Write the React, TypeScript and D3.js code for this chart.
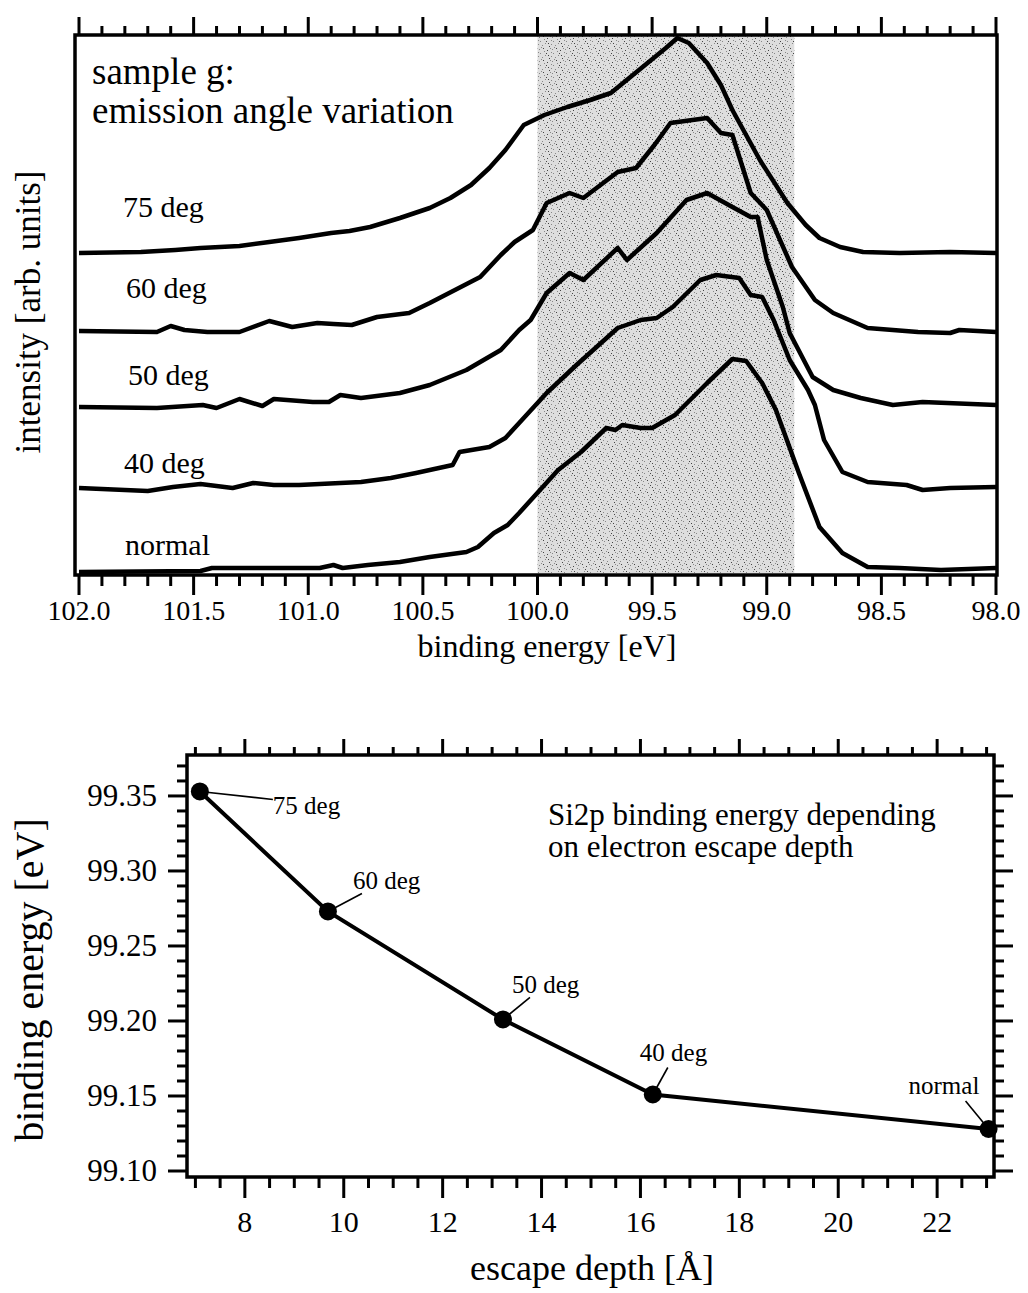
import React from 'react';
import * as d3 from 'd3';

// ---------- top panel data ----------
const energyTicks = [102.0, 101.5, 101.0, 100.5, 100.0, 99.5, 99.0, 98.5, 98.0];
const shadeRange = [100.0, 98.88];
const curveNames = ['75 deg', '60 deg', '50 deg', '40 deg', 'normal'];

const curve75: [number, number][] = [
  [102.0, 322], [101.73, 323], [101.58, 325], [101.47, 327], [101.3, 329], [101.17, 333], [101.04, 337],
  [100.9, 342], [100.82, 344], [100.73, 348], [100.6, 357], [100.47, 367], [100.38, 377], [100.29, 390],
  [100.21, 407], [100.14, 425], [100.06, 450], [99.97, 460], [99.87, 468], [99.77, 475], [99.68, 482],
  [99.6, 497], [99.52, 512], [99.44, 527], [99.39, 537], [99.34, 532], [99.26, 512], [99.2, 490],
  [99.15, 465], [99.03, 415], [98.91, 372], [98.83, 350], [98.77, 337], [98.68, 328], [98.58, 323],
  [98.42, 322], [98.2, 323], [98.0, 322],
];
const curve60: [number, number][] = [
  [102.0, 244], [101.66, 243], [101.6, 249], [101.54, 245], [101.44, 243], [101.3, 243], [101.17, 254],
  [101.07, 248], [100.96, 252], [100.89, 251], [100.81, 250], [100.7, 258], [100.56, 262], [100.47, 272],
  [100.36, 285], [100.25, 298], [100.16, 320], [100.1, 333], [100.02, 345], [99.96, 372], [99.86, 382],
  [99.8, 377], [99.65, 403], [99.57, 407], [99.49, 430], [99.42, 452], [99.26, 457], [99.2, 442],
  [99.15, 440], [99.07, 382], [99.0, 365], [98.89, 308], [98.79, 275], [98.71, 262], [98.56, 247],
  [98.34, 243], [98.2, 242], [98.16, 245], [98.0, 243],
];
const curve50: [number, number][] = [
  [102.0, 168], [101.66, 167], [101.46, 170], [101.4, 167], [101.3, 176], [101.2, 169], [101.15, 176],
  [100.98, 173], [100.91, 173], [100.86, 180], [100.77, 177], [100.6, 182], [100.47, 190], [100.31, 205],
  [100.16, 225], [100.08, 245], [100.03, 255], [99.96, 282], [99.86, 302], [99.8, 295], [99.65, 327],
  [99.61, 315], [99.48, 342], [99.35, 375], [99.26, 382], [99.15, 368], [99.07, 358], [99.04, 358],
  [99.0, 315], [98.93, 268], [98.9, 242], [98.8, 198], [98.71, 185], [98.59, 177], [98.45, 170],
  [98.32, 173], [98.0, 170],
];
const curve40: [number, number][] = [
  [102.0, 87], [101.7, 84], [101.59, 88], [101.47, 91], [101.33, 87], [101.24, 92], [101.15, 90],
  [101.04, 90], [100.95, 91], [100.77, 93], [100.64, 97], [100.53, 102], [100.37, 110], [100.34, 123],
  [100.21, 128], [100.14, 137], [100.08, 152], [99.96, 182], [99.83, 210], [99.65, 247], [99.55, 255],
  [99.48, 257], [99.41, 268], [99.29, 295], [99.22, 300], [99.12, 297], [99.07, 280], [99.02, 278],
  [98.97, 255], [98.9, 215], [98.82, 185], [98.79, 170], [98.75, 135], [98.67, 103], [98.56, 93],
  [98.39, 90], [98.32, 85], [98.2, 87], [98.0, 88],
];
const curveNormal: [number, number][] = [
  [102.0, 3], [101.47, 4], [101.42, 7], [100.95, 7], [100.89, 10], [100.85, 7], [100.74, 10],
  [100.6, 13], [100.47, 18], [100.31, 23], [100.26, 28], [100.19, 42], [100.13, 50], [100.08, 62],
  [99.91, 105], [99.81, 123], [99.7, 147], [99.66, 145], [99.63, 150], [99.55, 147], [99.5, 147],
  [99.4, 160], [99.26, 192], [99.15, 216], [99.09, 214], [99.02, 192], [98.96, 165], [98.86, 102],
  [98.77, 48], [98.67, 22], [98.56, 8], [98.42, 7], [98.24, 5], [98.0, 7],
];
const curves = [curve75, curve60, curve50, curve40, curveNormal];

// ---------- bottom panel data ----------
const depthTicks = [8, 10, 12, 14, 16, 18, 20, 22];
const bindingTicks = [99.1, 99.15, 99.2, 99.25, 99.3, 99.35];
const pointNames = ['75 deg', '60 deg', '50 deg', '40 deg', 'normal'];
const escapeDepth = [7.09, 9.68, 13.22, 16.25, 23.04];
const bindingEnergy = [99.353, 99.273, 99.201, 99.151, 99.128];

// ---------- layout (pixels) ----------
const FONT = "'Liberation Serif', 'Times New Roman', serif";
const top = { l: 75, r: 997, t: 35, b: 575 };
const bot = { l: 187, r: 994, t: 755, b: 1177 };
const curveLabelPos = [[123, 217], [126, 298], [128, 385], [124, 473], [125, 555]];
// text offset (dx,dy) and leader end offset (lx,ly) relative to each point
const annotOffsets = [
  [73, 23, 73, 8],
  [25, -22, 34, -18],
  [9, -26, 27, -22],
  [-13, -33, 15, -27],
  [-80, -35, -23, -28],
];
const stippleDots = [
  [1, 2], [4, 0], [7, 5], [2, 7], [5, 4], [9, 9], [0, 5], [6, 1], [11, 3], [3, 10], [8, 11], [12, 7], [10, 0], [5, 8],
];

export default function App() {
  const xTop = d3.scaleLinear().domain([102, 98]).range([79, 996]);
  const yTop = d3.scaleLinear().domain([0, 540]).range([top.b, top.t]);
  const line = d3.line<[number, number]>().x(d => xTop(d[0])).y(d => yTop(d[1]));
  const topMinor = d3.range(0, 41).map(i => 98 + i * 0.1);

  const xBot = d3.scaleLinear().domain([6.83, 23.15]).range([bot.l, bot.r]);
  const yBot = d3.scaleLinear().domain([99.096, 99.3773]).range([bot.b, bot.t]);
  const botXMinor = d3.range(7, 23.01, 0.5).filter(v => xBot(v) > bot.l + 2 && xBot(v) < bot.r - 2);
  const botYMinor = d3.range(0, 28).map(i => 99.1 + i * 0.01);
  const pts = escapeDepth.map((d, i) => [d, bindingEnergy[i]] as [number, number]);
  const botLine = d3.line<[number, number]>().x(d => xBot(d[0])).y(d => yBot(d[1]));

  return (
    <svg width={1028} height={1293} style={{ position: 'absolute', left: 0, top: 0, background: '#fff' }}
      fontFamily={FONT}>
      <defs>
        <pattern id="stipple" width={13} height={12} patternUnits="userSpaceOnUse">
          <rect width={13} height={12} fill="#dedede" />
          {stippleDots.map((p, i) => (
            <rect key={i} x={p[0]} y={p[1]} width={1} height={1} fill={i % 3 === 0 ? '#444' : '#888'} />
          ))}
        </pattern>
      </defs>

      {/* ---------- TOP PANEL ---------- */}
      <rect x={xTop(shadeRange[0])} y={top.t} width={xTop(shadeRange[1]) - xTop(shadeRange[0])}
        height={top.b - top.t - 2} fill="url(#stipple)" />
      {curves.map((c, i) => (
        <path key={i} d={line(c) || ''} fill="none" stroke="#000" strokeWidth={4.5} strokeLinejoin="round" />
      ))}
      <rect x={top.l} y={top.t} width={top.r - top.l} height={top.b - top.t} fill="none" stroke="#000" strokeWidth={3.5} />
      {topMinor.map((v, i) => {
        const major = i % 5 === 0;
        const x = xTop(v);
        return (
          <g key={i}>
            <line x1={x} x2={x} y1={top.t} y2={top.t - (major ? 18 : 9)} stroke="#000" strokeWidth={3} />
            <line x1={x} x2={x} y1={top.b} y2={top.b + (major ? 20 : 11)} stroke="#000" strokeWidth={3} />
          </g>
        );
      })}
      {energyTicks.map((v, i) => (
        <text key={i} x={xTop(v)} y={620} fontSize={28} textAnchor="middle">{v.toFixed(1)}</text>
      ))}
      <text x={547} y={657} fontSize={32} textAnchor="middle">binding energy [eV]</text>
      <text transform="translate(40,312) rotate(-90)" fontSize={35} textAnchor="middle">intensity [arb. units]</text>
      <text x={92} y={84} fontSize={37}>sample g:</text>
      <text x={92} y={123} fontSize={37}>emission angle variation</text>
      {curveNames.map((n, i) => (
        <text key={i} x={curveLabelPos[i][0]} y={curveLabelPos[i][1]} fontSize={30}>{n}</text>
      ))}

      {/* ---------- BOTTOM PANEL ---------- */}
      <rect x={bot.l} y={bot.t} width={bot.r - bot.l} height={bot.b - bot.t} fill="none" stroke="#000" strokeWidth={3.5} />
      {botXMinor.map((v, i) => {
        const major = Number.isInteger(v) && v % 2 === 0;
        const x = xBot(v);
        return (
          <g key={i}>
            <line x1={x} x2={x} y1={bot.t} y2={bot.t - (major ? 16 : 8)} stroke="#000" strokeWidth={3} />
            <line x1={x} x2={x} y1={bot.b} y2={bot.b + (major ? 21 : 11)} stroke="#000" strokeWidth={3} />
          </g>
        );
      })}
      {botYMinor.map((v, i) => {
        const major = i % 5 === 0;
        const y = yBot(v);
        return (
          <g key={i}>
            <line x1={bot.l} x2={bot.l - (major ? 19 : 10)} y1={y} y2={y} stroke="#000" strokeWidth={3} />
            <line x1={bot.r} x2={bot.r + (major ? 19 : 10)} y1={y} y2={y} stroke="#000" strokeWidth={3} />
          </g>
        );
      })}
      {depthTicks.map((v, i) => (
        <text key={i} x={xBot(v)} y={1232} fontSize={30} textAnchor="middle">{v}</text>
      ))}
      {bindingTicks.map((v, i) => (
        <text key={i} x={157} y={yBot(v) + 10} fontSize={31} textAnchor="end">{v.toFixed(2)}</text>
      ))}
      <text x={592} y={1280} fontSize={36} textAnchor="middle">escape depth [Å]</text>
      <text transform="translate(43,980) rotate(-90)" fontSize={40} textAnchor="middle">binding energy [eV]</text>
      <text x={548} y={825} fontSize={31}>Si2p binding energy depending</text>
      <text x={548} y={857} fontSize={31}>on electron escape depth</text>

      <path d={botLine(pts) || ''} fill="none" stroke="#000" strokeWidth={4} />
      {pts.map((p, i) => {
        const cx = xBot(p[0]);
        const cy = yBot(p[1]);
        const o = annotOffsets[i];
        return (
          <g key={i}>
            <line x1={cx} y1={cy} x2={cx + o[2]} y2={cy + o[3]} stroke="#000" strokeWidth={1.6} />
            <circle cx={cx} cy={cy} r={9} fill="#000" />
            <text x={cx + o[0]} y={cy + o[1]} fontSize={25}>{pointNames[i]}</text>
          </g>
        );
      })}
    </svg>
  );
}
